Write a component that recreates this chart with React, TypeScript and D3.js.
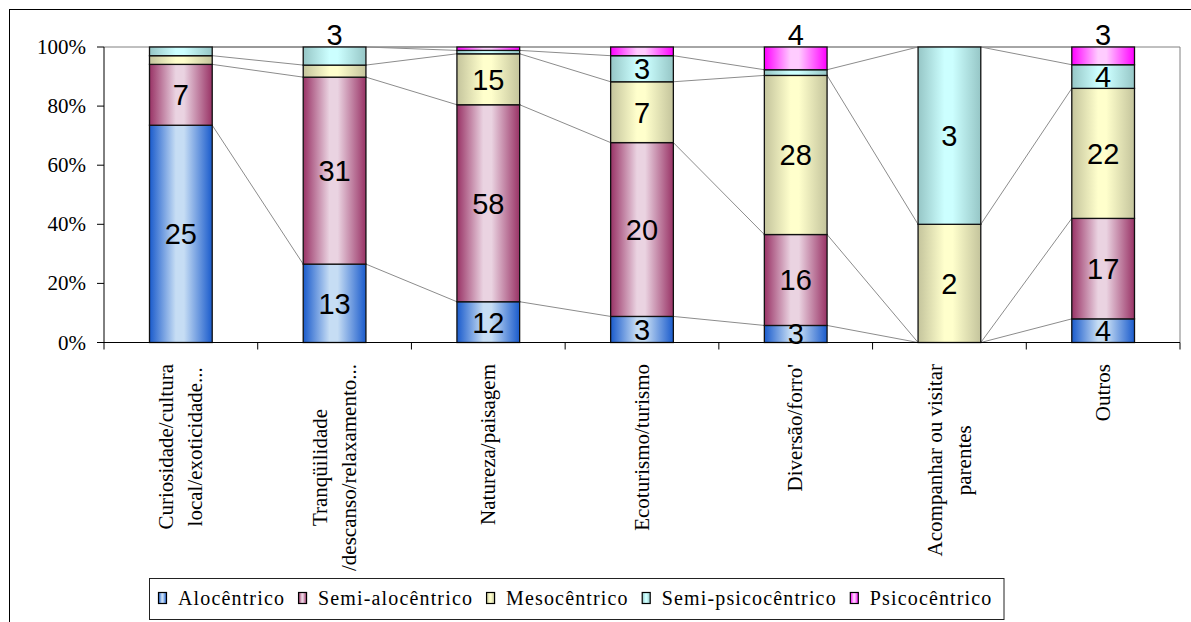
import React from 'react';
import * as d3 from 'd3';

// Motivação de viagem por perfil psicográfico (contagens; barras empilhadas a 100%)
const categories = [
  'Curiosidade/cultura\nlocal/exoticidade...',
  'Tranqüilidade\n/descanso/relaxamento...',
  'Natureza/paisagem',
  'Ecoturismo/turismo',
  "Diversão/forro'",
  'Acompanhar ou visitar\nparentes',
  'Outros',
];
const seriesNames = ['Alocêntrico', 'Semi-alocêntrico', 'Mesocêntrico', 'Semi-psicocêntrico', 'Psicocêntrico'];
const alocentrico = [25, 13, 12, 3, 3, 0, 4];
const semiAlocentrico = [7, 31, 58, 20, 16, 0, 17];
const mesocentrico = [1, 2, 15, 7, 28, 2, 22];
const semiPsicocentrico = [1, 3, 1, 3, 1, 3, 4];
const psicocentrico = [0, 0, 1, 1, 4, 0, 3];
const yTicks = [0, 0.2, 0.4, 0.6, 0.8, 1];

// gradient colours per series: [edge, centre]
const seriesColors: [string, string][] = [
  ['#1a5bcc', '#c6ddf4'],
  ['#993366', '#ead3e1'],
  ['#c4c49c', '#ffffcc'],
  ['#96c6c6', '#ccffff'],
  ['#ff00ff', '#ffccff'],
];

const W = 1191;
const H = 622;
const plot = { left: 104, right: 1180, top: 47, bottom: 342.5 };
const serif = '"Liberation Serif", "Times New Roman", serif';
const sans = '"Liberation Sans", Arial, sans-serif';

const measureCtx = typeof document !== 'undefined' ? document.createElement('canvas').getContext('2d') : null;
function textWidth(t: string, font: string, letterSpacing = 0): number {
  if (!measureCtx) return t.length * 10;
  measureCtx.font = font;
  return measureCtx.measureText(t).width + letterSpacing * t.length;
}

export default function App() {
  const seriesValues = [alocentrico, semiAlocentrico, mesocentrico, semiPsicocentrico, psicocentrico];
  const rows = categories.map((c, i) => {
    const r: Record<string, number | string> = { cat: c };
    seriesNames.forEach((s, k) => (r[s] = seriesValues[k][i]));
    return r;
  });
  const stacked = d3
    .stack<Record<string, number | string>>()
    .keys(seriesNames)
    .value((d, key) => d[key] as number)
    .offset(d3.stackOffsetExpand)(rows);

  const x = d3
    .scaleBand<string>()
    .domain(categories)
    .range([plot.left, plot.right])
    .paddingInner(0.592)
    .paddingOuter(0.296);
  const y = d3.scaleLinear().domain([0, 1]).range([plot.bottom, plot.top]);
  const bw = x.bandwidth();
  const step = x.step();

  // labels: hide tiny segments; small top segments get their label above the bar
  const labels: { x: number; y: number; text: string }[] = [];
  categories.forEach((c, i) => {
    const totals = seriesValues.map((v) => v[i]);
    const lastNonZero = totals.reduce((acc, v, k) => (v > 0 ? k : acc), -1);
    stacked.forEach((layer, k) => {
      const [a, b] = layer[i];
      const v = totals[k];
      const pct = b - a;
      if (v <= 0 || pct < 0.05) return;
      const cx = (x(c) as number) + bw / 2;
      if (k === lastNonZero && pct < 0.08) {
        labels.push({ x: cx, y: y(1) - 2, text: String(v) });
      } else {
        labels.push({ x: cx, y: y((a + b) / 2) + 29 * 0.36, text: String(v) });
      }
    });
  });

  // series lines between neighbouring bars
  const seriesLines: { x1: number; y1: number; x2: number; y2: number }[] = [];
  for (let i = 0; i < categories.length - 1; i++) {
    stacked.forEach((layer) => {
      seriesLines.push({
        x1: (x(categories[i]) as number) + bw,
        y1: y(layer[i][1]),
        x2: x(categories[i + 1]) as number,
        y2: y(layer[i + 1][1]),
      });
    });
  }

  const tickXs = d3.range(categories.length + 1).map((i) => plot.left + i * step);

  // legend layout
  const legendFont = `20px ${serif}`;
  const legendLS = 1.15;
  const widths = seriesNames.map((s) => textWidth(s, legendFont, legendLS));
  const swatchToText = 20;
  const itemGap = 13;
  const legendInner = d3.sum(widths) + seriesNames.length * swatchToText + (seriesNames.length - 1) * itemGap;
  const legendW = legendInner + 9 + 11;
  const legendX = 149;
  const legendY = 578;
  const legendH = 41;
  const legendItems: { sx: number; tx: number; name: string; k: number }[] = [];
  let cursor = legendX + 9;
  seriesNames.forEach((s, k) => {
    legendItems.push({ sx: cursor, tx: cursor + swatchToText, name: s, k });
    cursor += swatchToText + widths[k] + itemGap;
  });

  const xLabelFont = `21px ${serif}`;

  return (
    <svg
      width={W}
      height={H}
      style={{ position: 'absolute', left: 0, top: 0, background: '#fff' }}
      xmlns="http://www.w3.org/2000/svg"
    >
      <defs>
        {seriesColors.map(([edge, centre], k) => (
          <linearGradient key={k} id={`grad${k}`} x1="0" x2="1" y1="0" y2="0">
            <stop offset="0" stopColor={edge} />
            <stop offset="0.42" stopColor={centre} />
            <stop offset="0.55" stopColor={centre} />
            <stop offset="1" stopColor={edge} />
          </linearGradient>
        ))}
      </defs>
      <rect x={0} y={0} width={W} height={H} fill="#fff" />
      {/* chart frame */}
      <rect x={9.5} y={9.5} width={W + 100} height={H + 100} fill="none" stroke="#000" strokeWidth={1} />

      {/* plot area border */}
      <line x1={plot.left} x2={plot.right} y1={plot.top} y2={plot.top} stroke="#808080" />
      <line x1={plot.right} x2={plot.right} y1={plot.top} y2={plot.bottom} stroke="#808080" />

      {/* series lines */}
      {seriesLines.map((l, i) => (
        <line key={i} x1={l.x1} y1={l.y1} x2={l.x2} y2={l.y2} stroke="#8c8c8c" strokeWidth={1} />
      ))}

      {/* bars */}
      {stacked.map((layer, k) => (
        <g key={k}>
          {layer.map((d, i) => {
            const h = y(d[0]) - y(d[1]);
            if (h <= 0) return null;
            return (
              <rect
                key={i}
                x={x(categories[i])}
                y={y(d[1])}
                width={bw}
                height={h}
                fill={`url(#grad${k})`}
                stroke="#111"
                strokeWidth={1.3}
              />
            );
          })}
        </g>
      ))}

      {/* y axis */}
      <line x1={plot.left} x2={plot.left} y1={plot.top} y2={plot.bottom} stroke="#000" />
      {yTicks.map((t) => (
        <g key={t}>
          <line x1={plot.left - 7} x2={plot.left} y1={y(t)} y2={y(t)} stroke="#000" />
          <text
            x={86}
            y={y(t) + 7}
            textAnchor="end"
            fontFamily={serif}
            fontSize={21}
            fill="#000"
          >
            {d3.format('.0%')(t)}
          </text>
        </g>
      ))}

      {/* x axis */}
      <line x1={plot.left} x2={plot.right} y1={plot.bottom} y2={plot.bottom} stroke="#000" />
      {tickXs.map((tx, i) => (
        <line key={i} x1={tx} x2={tx} y1={plot.bottom} y2={plot.bottom + 7} stroke="#000" />
      ))}
      {categories.map((c) => {
        const lines = c.split('\n');
        const L = d3.max(lines, (l) => textWidth(l, xLabelFont)) as number;
        const cx = (x(c) as number) + bw / 2;
        return (
          <g key={c} transform={`translate(${cx},364) rotate(-90)`}>
            {lines.map((l, j) => (
              <text
                key={j}
                x={-L / 2}
                y={(j - (lines.length - 1) / 2) * 29}
                dy="0.32em"
                textAnchor="middle"
                fontFamily={serif}
                fontSize={21}
                fill="#000"
              >
                {l}
              </text>
            ))}
          </g>
        );
      })}

      {/* value labels */}
      {labels.map((l, i) => (
        <text key={i} x={l.x} y={l.y} textAnchor="middle" fontFamily={sans} fontSize={29} fill="#000">
          {l.text}
        </text>
      ))}

      {/* legend */}
      <rect x={legendX + 0.5} y={legendY + 0.5} width={legendW} height={legendH} fill="#fff" stroke="#222" />
      {legendItems.map((it) => (
        <g key={it.name}>
          <rect
            x={it.sx + 0.5}
            y={legendY + 14.5}
            width={8}
            height={11}
            fill={`url(#grad${it.k})`}
            stroke="#000"
            strokeWidth={1.2}
          />
          <text
            x={it.tx}
            y={legendY + 27}
            fontFamily={serif}
            fontSize={20}
            letterSpacing={legendLS}
            fill="#000"
          >
            {it.name}
          </text>
        </g>
      ))}
    </svg>
  );
}
